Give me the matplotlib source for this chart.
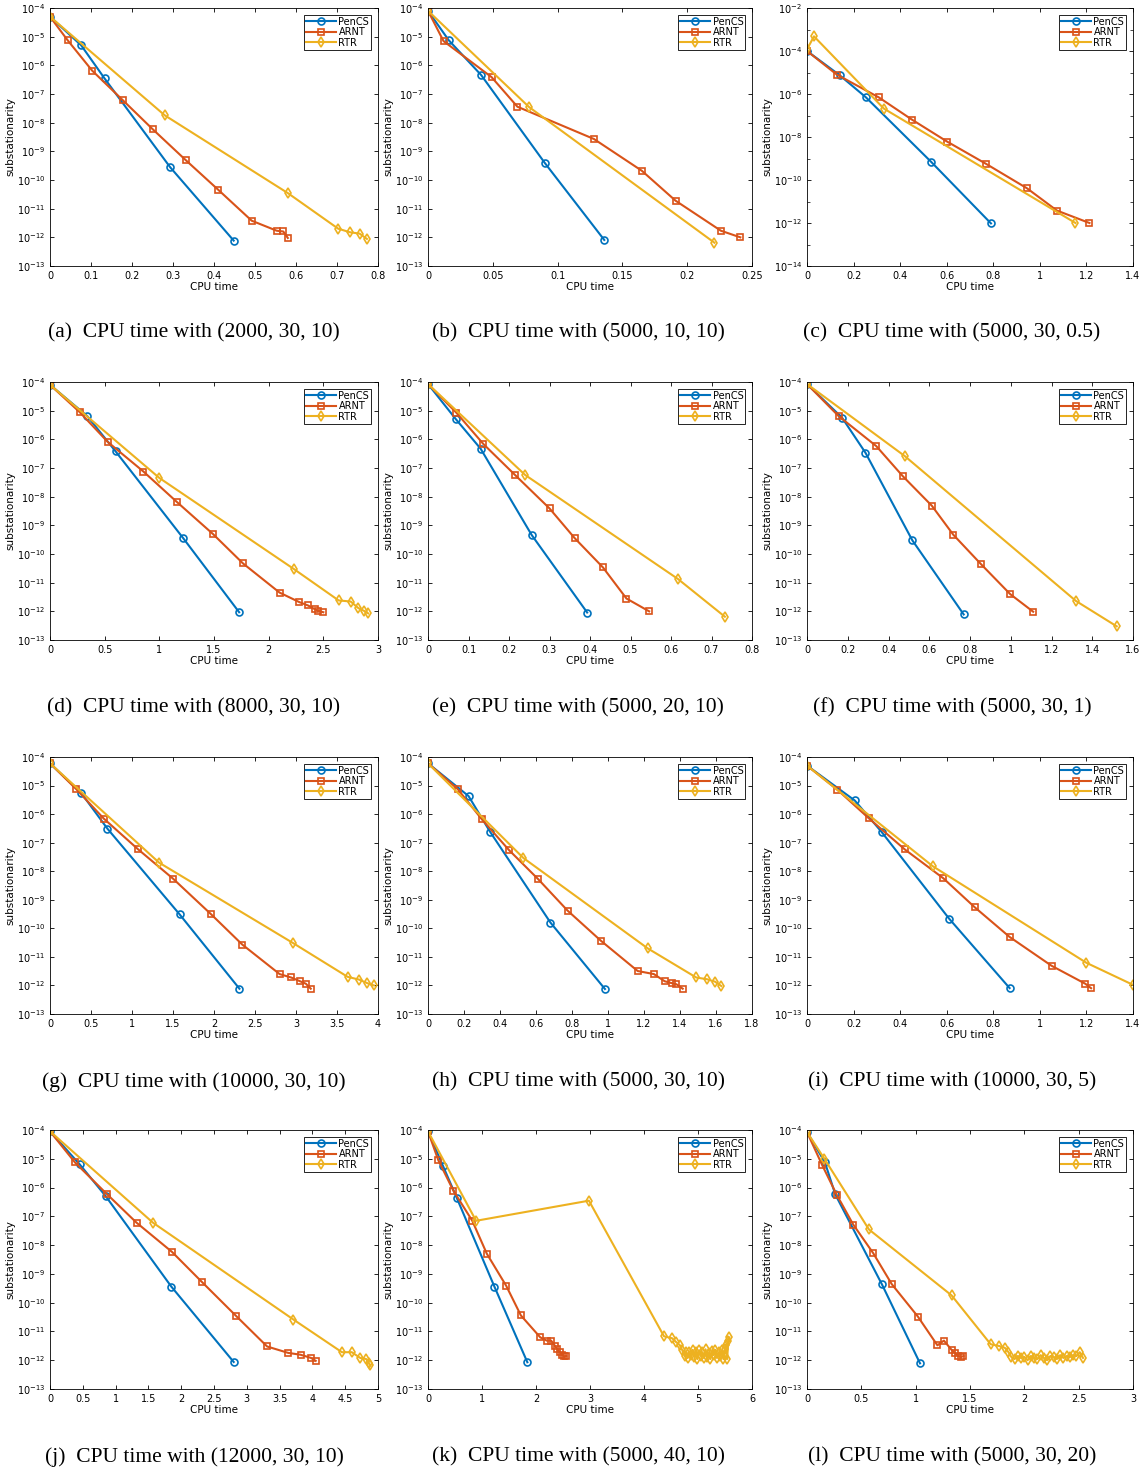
import numpy as np
import matplotlib
matplotlib.use("Agg")
import matplotlib.pyplot as plt
from matplotlib.ticker import LogLocator, NullFormatter

# (a) (2000,30,10)
t_pen_a = [0, 0.076, 0.133, 0.293, 0.448]
s_pen_a = [5e-5, 5e-6, 3.5e-7, 2.8e-10, 7.7e-13]
t_arn_a = [0, 0.043, 0.103, 0.178, 0.25, 0.332, 0.41, 0.492, 0.553, 0.569, 0.58]
s_arn_a = [5e-5, 7.5e-6, 6.5e-7, 6e-8, 6e-9, 4.8e-10, 4.6e-11, 3.8e-12, 1.7e-12, 1.6e-12, 9.5e-13]
t_rtr_a = [0, 0.28, 0.58, 0.703, 0.732, 0.755, 0.773]
s_rtr_a = [5e-5, 1.8e-8, 3.5e-11, 2e-12, 1.5e-12, 1.35e-12, 8.8e-13]

# (b) (5000,10,10)
t_pen_b = [0, 0.016, 0.041, 0.09, 0.136]
s_pen_b = [8e-5, 7.5e-6, 4.6e-7, 4e-10, 8.1e-13]
t_arn_b = [0, 0.012, 0.049, 0.069, 0.128, 0.165, 0.191, 0.226, 0.241]
s_arn_b = [8e-5, 7e-6, 3.9e-7, 3.6e-8, 2.7e-9, 2.1e-10, 1.9e-11, 1.7e-12, 1e-12]
t_rtr_b = [0, 0.078, 0.221]
s_rtr_b = [8e-5, 3.5e-8, 6.5e-13]

# (c) (5000,30,0.5)
t_pen_c = [0, 0.14, 0.253, 0.533, 0.79]
s_pen_c = [1e-4, 7.5e-6, 7e-7, 7e-10, 9.6e-13]
t_arn_c = [0, 0.128, 0.308, 0.45, 0.603, 0.767, 0.945, 1.073, 1.213]
s_arn_c = [1e-4, 8e-6, 7e-7, 6.5e-8, 6e-9, 5.8e-10, 4.1e-11, 3.8e-12, 1e-12]
t_rtr_c = [0, 0.03, 0.33, 1.153]
s_rtr_c = [1.2e-4, 4.8e-4, 2.1e-7, 1e-12]

# (d) (8000,30,10)
t_pen_d = [0, 0.34, 0.6, 1.22, 1.73]
s_pen_d = [8e-5, 6.5e-6, 3.8e-7, 3.5e-10, 9.3e-13]
t_arn_d = [0, 0.27, 0.53, 0.855, 1.165, 1.49, 1.765, 2.1, 2.28, 2.36, 2.42, 2.45, 2.5]
s_arn_d = [8e-5, 9e-6, 8e-7, 7.5e-8, 6.3e-9, 5e-10, 4.7e-11, 4.5e-12, 2.1e-12, 1.6e-12, 1.2e-12, 1.05e-12, 9.3e-13]
t_rtr_d = [0, 1.0, 2.23, 2.64, 2.75, 2.82, 2.87, 2.91]
s_rtr_d = [8e-5, 4.5e-8, 3e-11, 2.4e-12, 2.2e-12, 1.3e-12, 1.05e-12, 8.5e-13]

# (e) (5000,20,10)
t_pen_e = [0, 0.068, 0.13, 0.256, 0.393]
s_pen_e = [8.5e-5, 5.2e-6, 4.7e-7, 4.6e-10, 9.1e-13]
t_arn_e = [0, 0.07, 0.137, 0.215, 0.3, 0.362, 0.432, 0.49, 0.546]
s_arn_e = [8.5e-5, 8.5e-6, 6.8e-7, 5.7e-8, 3.9e-9, 3.6e-10, 3.4e-11, 2.8e-12, 1e-12]
t_rtr_e = [0, 0.24, 0.617, 0.733]
s_rtr_e = [8.5e-5, 5.7e-8, 1.35e-11, 6.5e-13]

# (f) (5000,30,1)
t_pen_f = [0, 0.172, 0.287, 0.517, 0.769]
s_pen_f = [8.5e-5, 5.7e-6, 3.4e-7, 3e-10, 7.8e-13]
t_arn_f = [0, 0.155, 0.34, 0.47, 0.613, 0.718, 0.853, 0.997, 1.11]
s_arn_f = [8.5e-5, 6.5e-6, 5.8e-7, 5.2e-8, 4.8e-9, 4.7e-10, 4.5e-11, 4e-12, 9.7e-13]
t_rtr_f = [0, 0.48, 1.32, 1.52]
s_rtr_f = [8.5e-5, 2.6e-7, 2.3e-12, 3e-13]

# (g) (10000,30,10)
t_pen_g = [0, 0.38, 0.7, 1.58, 2.31]
s_pen_g = [6e-5, 5.5e-6, 3.1e-7, 3.1e-10, 7.7e-13]
t_arn_g = [0, 0.32, 0.655, 1.07, 1.5, 1.965, 2.345, 2.8, 2.94, 3.05, 3.12, 3.18]
s_arn_g = [6e-5, 7.5e-6, 7e-7, 6e-8, 5.5e-9, 3.1e-10, 2.7e-11, 2.5e-12, 1.9e-12, 1.4e-12, 1.15e-12, 7.7e-13]
t_rtr_g = [0, 1.33, 2.96, 3.63, 3.77, 3.87, 3.95]
s_rtr_g = [6e-5, 2e-8, 3.1e-11, 2e-12, 1.6e-12, 1.2e-12, 1e-12]

# (h) (5000,30,10)
t_pen_h = [0, 0.225, 0.345, 0.68, 0.983]
s_pen_h = [6e-5, 4.3e-6, 2.4e-7, 1.6e-10, 7.5e-13]
t_arn_h = [0, 0.165, 0.3, 0.45, 0.613, 0.775, 0.96, 1.165, 1.255, 1.315, 1.355, 1.38, 1.415]
s_arn_h = [6e-5, 7.5e-6, 6.5e-7, 5.5e-8, 5.2e-9, 4.2e-10, 3.7e-11, 3.2e-12, 2.5e-12, 1.4e-12, 1.2e-12, 1.1e-12, 7.7e-13]
t_rtr_h = [0, 0.53, 1.22, 1.49, 1.55, 1.595, 1.63]
s_rtr_h = [6e-5, 2.9e-8, 2e-11, 1.9e-12, 1.65e-12, 1.35e-12, 9.5e-13]

# (i) (10000,30,5)
t_pen_i = [0, 0.205, 0.32, 0.61, 0.87]
s_pen_i = [5e-5, 3e-6, 2.4e-7, 2.2e-10, 8.1e-13]
t_arn_i = [0, 0.13, 0.265, 0.42, 0.585, 0.72, 0.87, 1.05, 1.195, 1.22]
s_arn_i = [5e-5, 7.2e-6, 7.2e-7, 5.8e-8, 5.7e-9, 5.5e-10, 5e-11, 4.9e-12, 1.15e-12, 8e-13]
t_rtr_i = [0, 0.54, 1.2, 1.4]
s_rtr_i = [5e-5, 1.5e-8, 6.2e-12, 1.05e-12]

# (j) (12000,30,10)
t_pen_j = [0, 0.45, 0.85, 1.85, 2.8]
s_pen_j = [9e-5, 6.5e-6, 5e-7, 3.6e-10, 8.7e-13]
t_arn_j = [0, 0.38, 0.865, 1.32, 1.86, 2.31, 2.84, 3.31, 3.63, 3.82, 3.98, 4.05]
s_arn_j = [9e-5, 7.5e-6, 6e-7, 6e-8, 5.8e-9, 5.4e-10, 3.4e-11, 3e-12, 1.8e-12, 1.55e-12, 1.2e-12, 9.5e-13]
t_rtr_j = [0, 1.57, 3.71, 4.45, 4.6, 4.73, 4.82, 4.86, 4.88]
s_rtr_j = [9e-5, 6e-8, 2.6e-11, 1.9e-12, 1.9e-12, 1.2e-12, 1.1e-12, 8e-13, 6.6e-13]

# (k) (5000,40,10)
t_pen_k = [0, 0.28, 0.53, 1.23, 1.84]
s_pen_k = [9e-5, 5.5e-6, 4.5e-7, 3.6e-10, 8.5e-13]
t_arn_k = [0, 0.19, 0.47, 0.82, 1.09, 1.45, 1.72, 2.08, 2.2, 2.28, 2.36, 2.39, 2.44, 2.49, 2.52, 2.56]
s_arn_k = [9e-5, 9e-6, 7.8e-7, 7e-8, 5e-9, 3.8e-10, 3.6e-11, 6.2e-12, 4.8e-12, 4.8e-12, 3e-12, 2.4e-12, 1.9e-12, 1.5e-12, 1.35e-12, 1.4e-12]
t_rtr_k = [0, 0.89, 2.98, 4.37, 4.52, 4.60, 4.66, 4.71, 4.75, 4.78, 4.81, 4.84, 4.87,
           4.90, 4.93, 4.96, 4.99, 5.02, 5.05, 5.08, 5.11, 5.14, 5.17, 5.20, 5.23, 5.26,
           5.29, 5.32, 5.35, 5.38, 5.41, 5.44, 5.47, 5.50, 5.52, 5.54, 5.56, 5.58]
s_rtr_k = [9e-5, 7e-8, 3.5e-7, 6.8e-12, 5.8e-12, 4.2e-12, 3.4e-12, 2.2e-12, 1.4e-12, 2.0e-12,
           1.2e-12, 1.9e-12, 1.5e-12, 2.3e-12, 1.3e-12, 2.0e-12, 1.1e-12, 2.2e-12, 1.4e-12,
           1.9e-12, 1.2e-12, 2.4e-12, 1.3e-12, 1.8e-12, 1.1e-12, 2.1e-12, 1.5e-12, 2.3e-12,
           1.2e-12, 1.9e-12, 1.4e-12, 2.2e-12, 1.1e-12, 2.5e-12, 3.5e-12, 1.1e-12, 4.5e-12, 6.2e-12]

# (l) (5000,30,20)
t_pen_l = [0, 0.165, 0.26, 0.69, 1.04]
s_pen_l = [8.5e-5, 7.5e-6, 5.8e-7, 4.3e-10, 7.8e-13]
t_arn_l = [0, 0.14, 0.275, 0.425, 0.61, 0.78, 1.02, 1.2, 1.26, 1.33, 1.36, 1.39, 1.42, 1.44]
s_arn_l = [8.5e-5, 6e-6, 5.5e-7, 5.2e-8, 5.2e-9, 4.4e-10, 3.3e-11, 3.3e-12, 4.8e-12, 2.3e-12, 1.8e-12, 1.4e-12, 1.3e-12, 1.4e-12]
t_rtr_l = [0, 0.16, 0.57, 1.33, 1.69, 1.77, 1.82, 1.85, 1.88, 1.91, 1.94, 1.97, 2.00, 2.03,
           2.06, 2.09, 2.12, 2.15, 2.18, 2.21, 2.24, 2.27, 2.30, 2.33, 2.36, 2.39, 2.42,
           2.45, 2.48, 2.51, 2.54]
s_rtr_l = [8.5e-5, 1e-5, 3.5e-8, 1.8e-10, 3.6e-12, 3.1e-12, 2.7e-12, 2.0e-12, 1.3e-12, 1.1e-12,
           1.4e-12, 1.2e-12, 1.3e-12, 1.0e-12, 1.4e-12, 1.2e-12, 1.1e-12, 1.5e-12, 1.2e-12,
           1.0e-12, 1.4e-12, 1.3e-12, 1.1e-12, 1.5e-12, 1.2e-12, 1.4e-12, 1.3e-12, 1.5e-12,
           1.4e-12, 1.9e-12, 1.2e-12]

captions = ["(a)  CPU time with (2000, 30, 10)", "(b)  CPU time with (5000, 10, 10)",
            "(c)  CPU time with (5000, 30, 0.5)", "(d)  CPU time with (8000, 30, 10)",
            "(e)  CPU time with (5000, 20, 10)", "(f)  CPU time with (5000, 30, 1)",
            "(g)  CPU time with (10000, 30, 10)", "(h)  CPU time with (5000, 30, 10)",
            "(i)  CPU time with (10000, 30, 5)", "(j)  CPU time with (12000, 30, 10)",
            "(k)  CPU time with (5000, 40, 10)", "(l)  CPU time with (5000, 30, 20)"]
xmax = [0.8, 0.25, 1.4, 3, 0.8, 1.6, 4, 1.8, 1.4, 5, 6, 3]
xstep = [0.1, 0.05, 0.2, 0.5, 0.1, 0.2, 0.5, 0.2, 0.2, 0.5, 1, 0.5]
labels = ["PenCS", "ARNT", "RTR"]

panels = [
    (t_pen_a, s_pen_a, t_arn_a, s_arn_a, t_rtr_a, s_rtr_a),
    (t_pen_b, s_pen_b, t_arn_b, s_arn_b, t_rtr_b, s_rtr_b),
    (t_pen_c, s_pen_c, t_arn_c, s_arn_c, t_rtr_c, s_rtr_c),
    (t_pen_d, s_pen_d, t_arn_d, s_arn_d, t_rtr_d, s_rtr_d),
    (t_pen_e, s_pen_e, t_arn_e, s_arn_e, t_rtr_e, s_rtr_e),
    (t_pen_f, s_pen_f, t_arn_f, s_arn_f, t_rtr_f, s_rtr_f),
    (t_pen_g, s_pen_g, t_arn_g, s_arn_g, t_rtr_g, s_rtr_g),
    (t_pen_h, s_pen_h, t_arn_h, s_arn_h, t_rtr_h, s_rtr_h),
    (t_pen_i, s_pen_i, t_arn_i, s_arn_i, t_rtr_i, s_rtr_i),
    (t_pen_j, s_pen_j, t_arn_j, s_arn_j, t_rtr_j, s_rtr_j),
    (t_pen_k, s_pen_k, t_arn_k, s_arn_k, t_rtr_k, s_rtr_k),
    (t_pen_l, s_pen_l, t_arn_l, s_arn_l, t_rtr_l, s_rtr_l),
]

colors = ["#0072BD", "#D95319", "#EDB120"]
markers = ["o", "s", "d"]

W, H = 1143, 1474
fig = plt.figure(figsize=(W / 100, H / 100), dpi=100)

col_x = [(50, 378), (428, 752), (807, 1133)]
row_y = [(8, 266), (382, 640), (757, 1014), (1130, 1389)]
cap_x = [194, 578, 952]
cap_y = [333, 708, 1082, 1457]

for i, p in enumerate(panels):
    r, c = divmod(i, 3)
    x0, x1 = col_x[c]
    y0, y1 = row_y[r]
    ax = fig.add_axes([x0 / W, 1 - y1 / H, (x1 - x0) / W, (y1 - y0) / H])
    for k in range(3):
        ax.plot(p[2 * k], p[2 * k + 1], color=colors[k], marker=markers[k],
                markersize=5 if k != 2 else 5.5, markerfacecolor="none",
                markeredgewidth=1.2, linewidth=1.5, label=labels[k])
    ax.set_yscale("log")
    ax.set_xlim(0, xmax[i])
    ticks = np.arange(0, xmax[i] + 1e-9, xstep[i])
    ax.set_xticks(ticks)
    ax.set_xticklabels(["%g" % v for v in ticks])
    if i == 2:
        ax.set_ylim(1e-14, 1e-2)
        ax.set_yticks([10.0 ** e for e in range(-14, -1, 2)])
    else:
        ax.set_ylim(1e-13, 1e-4)
        ax.set_yticks([10.0 ** e for e in range(-13, -3)])
    ax.yaxis.set_minor_locator(LogLocator(base=10, subs=(1.0,), numticks=100))
    ax.yaxis.set_minor_formatter(NullFormatter())
    ax.tick_params(direction="in", top=True, right=True, labelsize=7, length=3, width=0.6)
    ax.tick_params(which="minor", direction="in", right=True, length=2, width=0.5)
    for sp in ax.spines.values():
        sp.set_linewidth(0.6)
    ax.set_xlabel("CPU time", fontsize=7.5, labelpad=1)
    ax.set_ylabel("substationarity", fontsize=7.5, labelpad=1)
    leg = ax.legend(loc="upper right", fontsize=7, fancybox=False, framealpha=1,
                    edgecolor="black", borderpad=0.2, labelspacing=0.05,
                    handlelength=3.0, handletextpad=0.3, borderaxespad=0.7)
    leg.get_frame().set_linewidth(0.6)
    fig.text(cap_x[c] / W, 1 - cap_y[r] / H, captions[i], ha="center", va="center",
             fontsize=15.5, family="Liberation Serif")

fig.savefig("out.png", dpi=100)
